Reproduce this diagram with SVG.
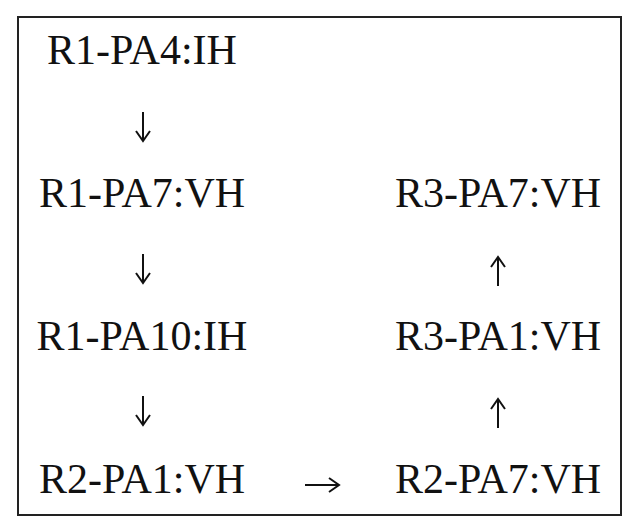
<svg xmlns="http://www.w3.org/2000/svg" width="638" height="528" viewBox="0 0 638 528">
<style>
text{font-family:"Liberation Serif","DejaVu Serif",serif;font-size:42px;fill:#111;text-anchor:middle}
.c{stroke:#111;stroke-width:2;fill:none}
</style>
<rect x="0" y="0" width="638" height="528" fill="#fff"/>
<rect x="18" y="17" width="603" height="498" fill="none" stroke="#222" stroke-width="2"/>
<g id="n1"><text x="142" y="64">R1-PA4:IH</text></g>
<g id="n2"><text x="142" y="207">R1-PA7:VH</text></g>
<g id="n3"><text x="142" y="350">R1-PA10:IH</text></g>
<g id="n4"><text x="142" y="493">R2-PA1:VH</text></g>
<g id="n5"><text x="498" y="493">R2-PA7:VH</text></g>
<g id="n6"><text x="498" y="350">R3-PA1:VH</text></g>
<g id="n7"><text x="498" y="207">R3-PA7:VH</text></g>
<g id="connectors">
<path class="c" d="M143 112V140M136 131L143 141L150 131"/>
<path class="c" d="M143 254V282M136 273L143 283L150 273"/>
<path class="c" d="M143 396V424M136 415L143 425L150 415"/>
<path class="c" d="M305 485H338M329 478L339 485L329 492"/>
<path class="c" d="M498 428V400M491 409L498 399L505 409"/>
<path class="c" d="M498 286V258M491 267L498 257L505 267"/>
</g>
</svg>
